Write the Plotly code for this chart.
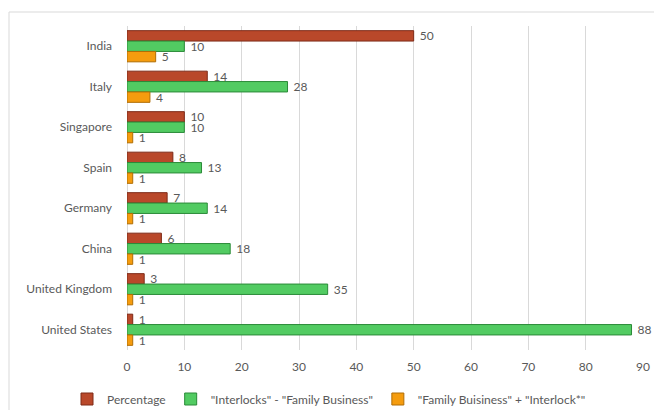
import plotly.graph_objects as go

# Countries, top to bottom
countries = ["India", "Italy", "Singapore", "Spain", "Germany", "China",
             "United Kingdom", "United States"]

percentage = [50, 14, 10, 8, 7, 6, 3, 1]
interlocks_minus_family = [10, 28, 10, 13, 14, 18, 35, 88]
family_plus_interlock = [5, 4, 1, 1, 1, 1, 1, 1]

series_names = ["Percentage",
                '"Interlocks" - "Family Business"',
                '"Family Buisiness" + "Interlock*"']
x_ticks = [0, 10, 20, 30, 40, 50, 60, 70, 80, 90]

FONT = "Lato"
TEXT_GRAY = "#595959"

fills = ["#B9482A", "#52CB62", "#F59C0E"]
edges = ["#7E2A17", "#2A8A38", "#B06D05"]
values = [percentage, interlocks_minus_family, family_plus_interlock]

fig = go.Figure()
for name, vals, fill, edge in zip(series_names, values, fills, edges):
    fig.add_trace(go.Bar(
        y=countries, x=vals, name=name, orientation="h",
        marker=dict(color=fill, line=dict(color=edge, width=1)),
        text=["\u00a0" + str(v) for v in vals], textposition="outside",
        constraintext="none",
        textfont=dict(family=FONT, size=12, color=TEXT_GRAY),
        cliponaxis=False,
    ))

W, H = 654, 410
L, R, T, B = 127, 11, 26, 60
PW, PH = W - L - R, H - T - B

fig.update_layout(
    width=W, height=H,
    margin=dict(l=L, r=R, t=T, b=B, autoexpand=False),
    paper_bgcolor="white", plot_bgcolor="white",
    barmode="group", bargap=0.23, bargroupgap=0,
    font=dict(family=FONT, size=12, color=TEXT_GRAY),
    xaxis=dict(range=[0, 90], tickvals=x_ticks, showgrid=True,
               gridcolor="#D9D9D9", gridwidth=1, zeroline=True,
               zerolinecolor="#D9D9D9", zerolinewidth=1, showline=False,
               ticks="", ticklabelstandoff=8,
               tickfont=dict(family=FONT, size=12, color=TEXT_GRAY)),
    yaxis=dict(categoryorder="array", categoryarray=countries,
               autorange="reversed", showgrid=False, zeroline=False,
               showline=False, ticks="", ticklabelstandoff=14,
               tickfont=dict(family=FONT, size=12, color=TEXT_GRAY)),
    legend=dict(orientation="h", xanchor="left", yanchor="middle",
                x=(67 - L) / PW, y=-(399 - (T + PH)) / PH,
                font=dict(family=FONT, size=12, color=TEXT_GRAY),
                traceorder="normal", bgcolor="rgba(0,0,0,0)"),
    shapes=[dict(type="rect", xref="paper", yref="paper",
                 x0=(9 - L) / PW, x1=1.1,
                 y0=-0.3, y1=1 + (T - 12) / PH,
                 line=dict(color="#D9D9D9", width=1), layer="below")],
)

fig.write_html("out.html")
